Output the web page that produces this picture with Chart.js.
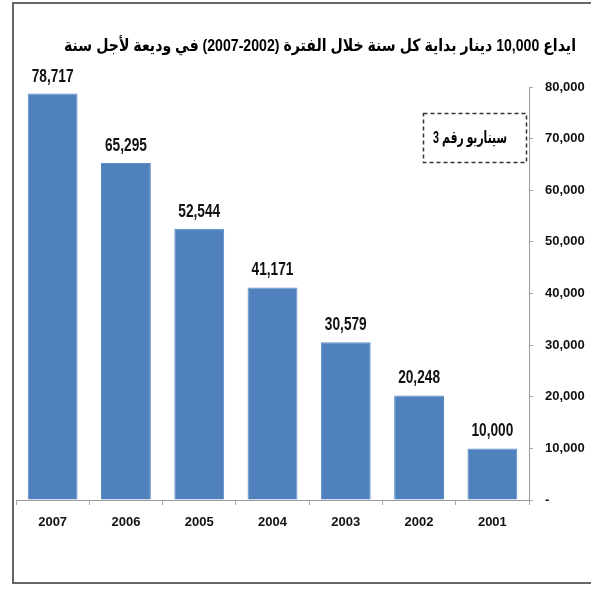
<!DOCTYPE html>
<html>
<head>
<meta charset="utf-8">
<script src="https://cdn.jsdelivr.net/npm/chart.js@4"></script>
<style>
    html, body { margin: 0; padding: 0; background: #fff; }
    canvas { display: block; }
</style>
</head>
<body>
<canvas id="depositChart" width="591" height="590"></canvas>
<script>
// Chart data
const years = ['2007', '2006', '2005', '2004', '2003', '2002', '2001'];
const balances = [78717, 65295, 52544, 41171, 30579, 20248, 10000];
const yMax = 80000;
const yStep = 10000;
const chartTitle = 'ايداع 10,000 دينار بداية كل سنة خلال الفترة (2002-2007) في وديعة لأجل سنة';
const scenarioLabel = 'سيناريو رقم 3';

const numFont = "'Liberation Sans', Arial, sans-serif";
const arFont = "'Liberation Sans', 'DejaVu Sans', sans-serif";

// draw text squeezed horizontally (the source picture is condensed)
function squeezedText(ctx, text, x, y, sx) {
    ctx.save();
    ctx.translate(x, y);
    ctx.scale(sx, 1);
    ctx.fillText(text, 0, 0);
    ctx.restore();
}

// Frame, title, scenario box and value labels
const decorations = {
    id: 'decorations',
    beforeDraw(chart) {
        const ctx = chart.ctx;
        ctx.save();
        ctx.fillStyle = '#fff';
        ctx.fillRect(0, 0, chart.width, chart.height);
        ctx.strokeStyle = '#666';
        ctx.lineWidth = 2;
        ctx.beginPath();
        ctx.moveTo(chart.width + 5, 3);
        ctx.lineTo(13, 3);
        ctx.lineTo(13, 583);
        ctx.lineTo(chart.width + 5, 583);
        ctx.stroke();
        ctx.restore();
    },
    afterDatasetsDraw(chart) {
        const ctx = chart.ctx;
        ctx.save();

        // title, fitted to the width it takes in the source
        ctx.direction = 'rtl';
        ctx.fillStyle = '#000';
        ctx.font = "bold 17px " + arFont;
        ctx.textAlign = 'center';
        ctx.textBaseline = 'middle';
        const titleW = ctx.measureText(chartTitle).width;
        squeezedText(ctx, chartTitle, 320, 46, Math.min(1, 512 / titleW));

        // scenario box
        ctx.setLineDash([4, 3]);
        ctx.strokeStyle = '#333';
        ctx.lineWidth = 1.5;
        ctx.strokeRect(423.5, 113.5, 103, 49);
        ctx.setLineDash([]);
        ctx.font = "bold 17px " + arFont;
        const boxW = ctx.measureText(scenarioLabel).width;
        squeezedText(ctx, scenarioLabel, 470, 138, Math.min(1, 74 / boxW));

        // value labels
        ctx.direction = 'ltr';
        ctx.fillStyle = '#111';
        ctx.font = "bold 18px " + numFont;
        ctx.textBaseline = 'alphabetic';
        const meta = chart.getDatasetMeta(0);
        meta.data.forEach((bar, i) => {
            squeezedText(ctx, balances[i].toLocaleString('en-US'), bar.x, bar.y - 12, 0.76);
        });
        ctx.restore();
    }
};

new Chart(document.getElementById('depositChart'), {
    type: 'bar',
    data: {
        labels: years,
        datasets: [{
            data: balances,
            backgroundColor: '#4F81BD',
            borderColor: '#5b8cc6',
            borderWidth: 1,
            categoryPercentage: 1,
            barPercentage: 0.68,
        }]
    },
    options: {
        responsive: false,
        animation: false,
        layout: {
            padding: { top: 87, left: 16, right: 0, bottom: 0 },
        },
        plugins: {
            legend: { display: false },
            tooltip: { enabled: false },
        },
        scales: {
            x: {
                grid: {
                    drawOnChartArea: false,
                    tickLength: 5,
                    color: '#aaa',
                },
                border: { color: '#999' },
                ticks: {
                    color: '#111',
                    padding: 10,
                    font: { family: numFont, size: 13, weight: 'bold' },
                },
                afterFit(scale) { scale.height = 90; },
            },
            y: {
                position: 'right',
                min: 0,
                max: yMax,
                grid: {
                    drawOnChartArea: false,
                    tickLength: 4,
                    color: '#aaa',
                },
                border: { color: '#999' },
                ticks: {
                    stepSize: yStep,
                    color: '#111',
                    padding: 12,
                    font: { family: numFont, size: 13, weight: 'bold' },
                    callback: (v) => v === 0 ? '-' : v.toLocaleString('en-US'),
                },
                afterFit(scale) { scale.width = 62; },
            }
        }
    },
    plugins: [decorations]
});
</script>
</body>
</html>
